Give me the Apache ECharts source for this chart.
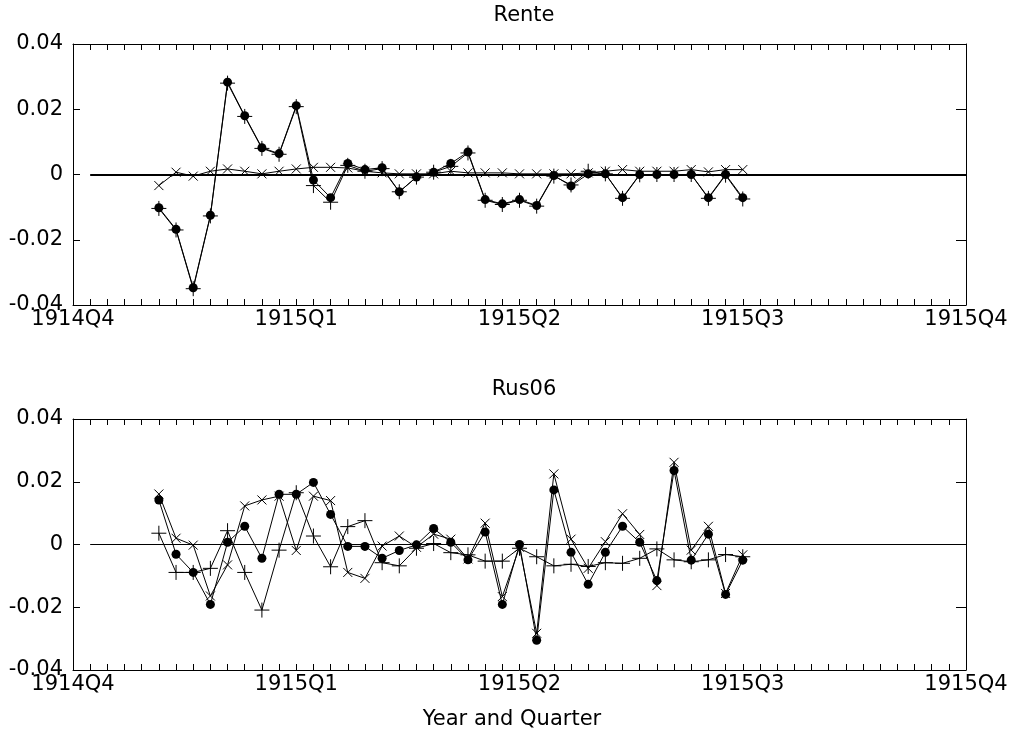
<!DOCTYPE html>
<html><head><meta charset="utf-8">
<script src="https://cdn.jsdelivr.net/npm/echarts@6/dist/echarts.min.js"></script>
<style>html,body{margin:0;padding:0;background:#fff}#c{width:1013px;height:738px}</style>
</head><body><div id="c"></div><script>
// week index within the year starting 1914Q4 (13 weeks per quarter)
const weeks = [5,6,7,8,9,10,11,12,13,14,15,16,17,18,19,20,21,22,23,24,25,26,27,28,29,30,31,32,33,34,35,36,37,38,39];
const quarterLabels = ['1914Q4','1915Q1','1915Q2','1915Q3','1915Q4'];
const weeksPerQuarter = 13;
const yTicks = [-0.04,-0.02,0,0.02,0.04];
const zeroSpan = [1,52];

const renteDot = [-0.0102,-0.0168,-0.0347,-0.0125,0.0283,0.0180,0.0082,0.0064,0.0211,-0.0017,-0.0071,0.0034,0.0015,0.0021,-0.0053,-0.0008,0.0007,0.0034,0.0069,-0.0077,-0.0090,-0.0077,-0.0095,-0.0003,-0.0035,0.0002,0.0002,-0.0071,0.0000,0.0000,0.0000,0.0000,-0.0071,0.0000,-0.0071];
const rentePlus = [-0.0104,-0.0170,-0.0350,-0.0127,0.0280,0.0178,0.0080,0.0062,0.0208,-0.0034,-0.0085,0.0028,0.0010,0.0018,-0.0053,-0.0008,0.0007,0.0025,0.0066,-0.0079,-0.0092,-0.0079,-0.0097,-0.0005,-0.0032,0.0010,0.0002,-0.0073,-0.0001,0.0000,0.0000,0.0000,-0.0073,-0.0002,-0.0075];
const renteCross = [-0.0034,0.0007,-0.0005,0.0010,0.0017,0.0010,0.0002,0.0010,0.0017,0.0022,0.0022,0.0020,0.0010,0.0005,0.0002,0.0002,0.0002,0.0010,0.0005,0.0005,0.0005,0.0002,0.0002,0.0002,0.0002,0.0005,0.0010,0.0015,0.0010,0.0010,0.0010,0.0015,0.0008,0.0015,0.0015];

const rusDot = [0.0142,-0.0031,-0.0089,-0.0191,0.0007,0.0058,-0.0044,0.0160,0.0160,0.0198,0.0096,-0.0006,-0.0006,-0.0044,-0.0019,-0.0001,0.0051,0.0007,-0.0049,0.0040,-0.0191,0.0000,-0.0305,0.0174,-0.0025,-0.0127,-0.0025,0.0058,0.0007,-0.0115,0.0236,-0.0050,0.0033,-0.0159,-0.0050];
const rusPlus = [0.0036,-0.0089,-0.0089,-0.0076,0.0044,-0.0089,-0.0209,-0.0018,0.0165,0.0027,-0.0071,0.0057,0.0076,-0.0058,-0.0068,-0.0012,0.0003,-0.0026,-0.0033,-0.0053,-0.0053,-0.0012,-0.0039,-0.0068,-0.0063,-0.0070,-0.0058,-0.0060,-0.0044,-0.0014,-0.0049,-0.0055,-0.0049,-0.0032,-0.0039];
const rusCross = [0.0161,0.0020,-0.0002,-0.0164,-0.0065,0.0123,0.0142,0.0154,-0.0019,0.0154,0.0140,-0.0089,-0.0108,-0.0005,0.0027,-0.0009,0.0033,0.0017,-0.0046,0.0068,-0.0166,-0.0009,-0.0283,0.0225,0.0017,-0.0076,0.0009,0.0098,0.0032,-0.0131,0.0262,-0.0018,0.0058,-0.0156,-0.0033];

const FONT = 'DejaVu Sans';
const FS = 21;
const PLUS = 'path://M0,-1L0,1M-1,0L1,0';
const CROSS = 'path://M-1,-1L1,1M-1,1L1,-1';
function pairs(v){ return weeks.map((w,i)=>[w, v[i]]); }

const grids = [
  {left:73, right:47, top:44, height:261},
  {left:73, right:47, top:419, height:251}
];

const xAxis = [], yAxis = [], series = [];
grids.forEach((g, gi) => {
  const base = {type:'value', gridIndex:gi, min:0, max:52, interval:1,
    axisLine:{show:true, onZero:false, lineStyle:{color:'#000', width:1}},
    axisTick:{show:true, inside:true, length:6, lineStyle:{color:'#000'}},
    splitLine:{show:false}};
  xAxis.push(Object.assign({}, base, {position:'bottom',
    axisLabel:{show:true, color:'#000', fontFamily:FONT, fontSize:FS, margin:4,
      showMinLabel:true, showMaxLabel:true, hideOverlap:false,
      formatter:v => (Math.round(v) % weeksPerQuarter === 0) ? quarterLabels[Math.round(v/weeksPerQuarter)] : ''}}));
  xAxis.push(Object.assign({}, base, {position:'top', axisLabel:{show:false}}));
  const ybase = {type:'value', gridIndex:gi, min:yTicks[0], max:yTicks[yTicks.length-1], interval:0.02,
    axisLine:{show:true, onZero:false, lineStyle:{color:'#000', width:1}},
    splitLine:{show:false}};
  yAxis.push(Object.assign({}, ybase, {position:'left',
    axisTick:{show:true, inside:true, length:7, lineStyle:{color:'#000'}},
    axisLabel:{show:true, color:'#000', fontFamily:FONT, fontSize:FS, margin:10,
      showMinLabel:true, showMaxLabel:true, formatter:v => String(Math.round(v*100)/100)}}));
  yAxis.push(Object.assign({}, ybase, {position:'right',
    axisTick:{show:true, inside:true, length:10, lineStyle:{color:'#000'}},
    axisLabel:{show:false}}));
});

const panels = [
  {dot:renteDot, plus:rentePlus, cross:renteCross, zeroW:2},
  {dot:rusDot, plus:rusPlus, cross:rusCross, zeroW:1}
];
panels.forEach((p, gi) => {
  const common = {type:'line', xAxisIndex:gi*2, yAxisIndex:gi*2, showSymbol:true, showAllSymbol:true,
    animation:false, silent:true, lineStyle:{color:'#000', width:1}};
  series.push(Object.assign({}, common, {name:'cross'+gi, data:pairs(p.cross), symbol:CROSS, symbolSize:9,
    itemStyle:{color:'#000', borderColor:'#000', borderWidth:1}, z:2,
    markLine:{silent:true, symbol:'none', label:{show:false}, animation:false,
      lineStyle:{color:'#000', width:p.zeroW, type:'solid'},
      data:[[{coord:[zeroSpan[0],0]},{coord:[zeroSpan[1],0]}]]}}));
  series.push(Object.assign({}, common, {name:'plus'+gi, data:pairs(p.plus), symbol:PLUS, symbolSize:15,
    itemStyle:{color:'#000', borderColor:'#000', borderWidth:1}, z:3}));
  series.push(Object.assign({}, common, {name:'dot'+gi, data:pairs(p.dot), symbol:'circle', symbolSize:9,
    itemStyle:{color:'#000', borderWidth:0}, z:4}));
});

const tStyle = {color:'#000', fontFamily:FONT, fontSize:FS, fontWeight:'normal'};
const chart = echarts.init(document.getElementById('c'));
chart.setOption({
  animation:false,
  backgroundColor:'#fff',
  title:[
    {text:'Rente', left:519, top:0, textAlign:'center', textStyle:tStyle},
    {text:'Rus06', left:519, top:374, textAlign:'center', textStyle:tStyle},
    {text:'Year and Quarter', left:507, top:704, textAlign:'center', textStyle:tStyle}
  ],
  grid:grids, xAxis:xAxis, yAxis:yAxis, series:series
});
</script></body></html>
